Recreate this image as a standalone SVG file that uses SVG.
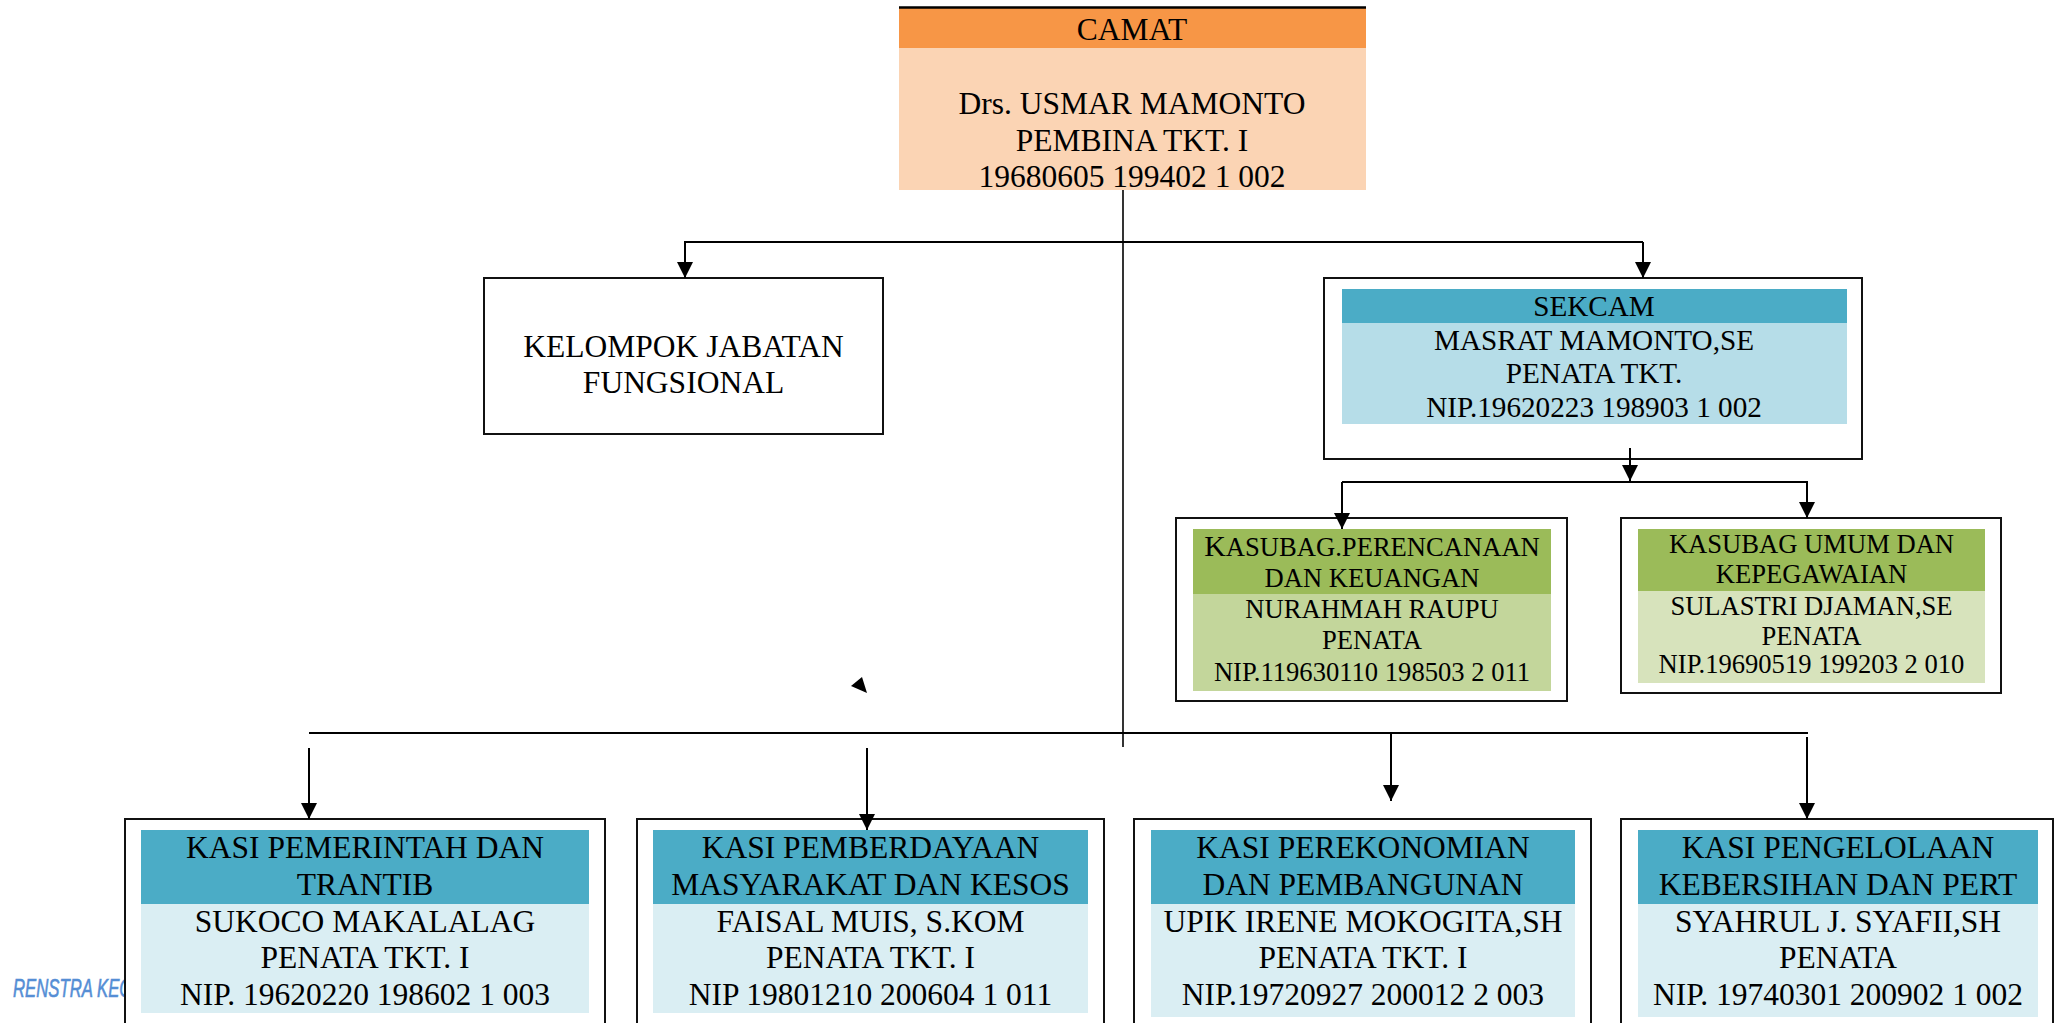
<svg xmlns="http://www.w3.org/2000/svg" width="2058" height="1023" viewBox="0 0 2058 1023">
<defs>
<style>
.t{font-family:"Liberation Serif","Times New Roman",serif;fill:#000;text-anchor:middle}
.s31{font-size:31.5px}
.s29{font-size:29.2px}
.s26{font-size:26.6px}
.box{fill:#fff;stroke:#111;stroke-width:2}
.ln{stroke:#000;stroke-width:2.2;fill:none}
.ar{stroke:#000;stroke-width:2;fill:none;marker-end:url(#ah)}
.hdrO{fill:#F79646}.bdyO{fill:#FBD4B4}
.hdrB{fill:#4BACC6}.bdyS{fill:#B6DDE8}.bdyK{fill:#DAEEF3}
.hdrG{fill:#9BBB59}.bdyG1{fill:#C3D69B}.bdyG2{fill:#D7E3BC}
</style>
<marker id="ah" markerUnits="userSpaceOnUse" markerWidth="16" markerHeight="16" viewBox="0 0 16 16" refX="16" refY="8" orient="auto"><path d="M0,0 L16,8 L0,16 z" fill="#000"/></marker>
</defs>
<rect width="2058" height="1023" fill="#fff"/>

<text transform="translate(13,997) scale(0.67,1)" font-family="'Liberation Sans',Arial,sans-serif" font-size="25" font-style="italic" fill="#558ED5" stroke="#558ED5" stroke-width="0.6">RENSTRA KEC</text>

<g id="camat">
<rect class="hdrO" x="899" y="8" width="467" height="40"/>
<rect class="bdyO" x="899" y="48" width="467" height="142"/>
<line x1="899" y1="7.5" x2="1366" y2="7.5" stroke="#000" stroke-width="2.5"/>
<text class="t s31" x="1132" y="40">CAMAT</text>
<text class="t s31" x="1132" y="114">Drs. USMAR MAMONTO</text>
<text class="t s31" x="1132" y="151">PEMBINA TKT. I</text>
<text class="t s31" x="1132" y="187">19680605 199402 1 002</text>
</g>

<g id="kelompok">
<rect class="box" x="484" y="278" width="399" height="156"/>
<text class="t s31" x="683.5" y="357">KELOMPOK JABATAN</text>
<text class="t s31" x="683.5" y="393">FUNGSIONAL</text>
</g>

<g id="sekcam">
<rect class="box" x="1324" y="278" width="538" height="181"/>
<rect class="hdrB" x="1342" y="289" width="505" height="34"/>
<rect class="bdyS" x="1342" y="323" width="505" height="101"/>
<text class="t s29" x="1594" y="316">SEKCAM</text>
<text class="t s29" x="1594" y="350">MASRAT MAMONTO,SE</text>
<text class="t s29" x="1594" y="383">PENATA TKT.</text>
<text class="t s29" x="1594" y="417">NIP.19620223 198903 1 002</text>
</g>

<g id="kasubag-perencanaan">
<rect class="box" x="1176" y="518" width="391" height="183"/>
<rect class="hdrG" x="1193" y="529" width="358" height="65"/>
<rect class="bdyG1" x="1193" y="594" width="358" height="97"/>
<text class="t s26" x="1372" y="556"><tspan font-size="30">K</tspan>ASUBAG.PERENCANAAN</text>
<text class="t s26" x="1372" y="587">DAN KEUANGAN</text>
<text class="t s26" x="1372" y="618">NURAHMAH RAUPU</text>
<text class="t s26" x="1372" y="649">PENATA</text>
<text class="t s26" x="1372" y="681">NIP.119630110 198503 2 011</text>
</g>

<g id="kasubag-umum">
<rect class="box" x="1621" y="518" width="380" height="175"/>
<rect class="hdrG" x="1638" y="529" width="347" height="62"/>
<rect class="bdyG2" x="1638" y="591" width="347" height="92"/>
<text class="t s26" x="1811.5" y="553">KASUBAG UMUM DAN</text>
<text class="t s26" x="1811.5" y="583">KEPEGAWAIAN</text>
<text class="t s26" x="1811.5" y="615">SULASTRI DJAMAN,SE</text>
<text class="t s26" x="1811.5" y="645">PENATA</text>
<text class="t s26" x="1811.5" y="673">NIP.19690519 199203 2 010</text>
</g>

<g id="kasi-pemerintah">
<rect class="box" x="125" y="819" width="480" height="220"/>
<rect class="hdrB" x="141" y="830" width="448" height="74"/>
<rect class="bdyK" x="141" y="904" width="448" height="109"/>
<text class="t s31" x="365" y="858">KASI PEMERINTAH DAN</text>
<text class="t s31" x="365" y="895">TRANTIB</text>
<text class="t s31" x="365" y="932">SUKOCO MAKALALAG</text>
<text class="t s31" x="365" y="968">PENATA TKT. I</text>
<text class="t s31" x="365" y="1005">NIP. 19620220 198602 1 003</text>
</g>

<g id="kasi-pemberdayaan">
<rect class="box" x="637" y="819" width="467" height="220"/>
<rect class="hdrB" x="653" y="830" width="435" height="74"/>
<rect class="bdyK" x="653" y="904" width="435" height="109"/>
<text class="t s31" x="870.5" y="858">KASI PEMBERDAYAAN</text>
<text class="t s31" x="870.5" y="895">MASYARAKAT DAN KESOS</text>
<text class="t s31" x="870.5" y="932">FAISAL MUIS, S.KOM</text>
<text class="t s31" x="870.5" y="968">PENATA TKT. I</text>
<text class="t s31" x="870.5" y="1005">NIP 19801210 200604 1 011</text>
</g>

<g id="kasi-perekonomian">
<rect class="box" x="1134" y="819" width="457" height="220"/>
<rect class="hdrB" x="1151" y="830" width="424" height="74"/>
<rect class="bdyK" x="1151" y="904" width="424" height="113"/>
<text class="t s31" x="1363" y="858">KASI PEREKONOMIAN</text>
<text class="t s31" x="1363" y="895">DAN PEMBANGUNAN</text>
<text class="t s31" x="1363" y="932">UPIK IRENE MOKOGITA,SH</text>
<text class="t s31" x="1363" y="968">PENATA TKT. I</text>
<text class="t s31" x="1363" y="1005">NIP.19720927 200012 2 003</text>
</g>

<g id="kasi-pengelolaan">
<rect class="box" x="1621" y="819" width="432" height="220"/>
<rect class="hdrB" x="1638" y="830" width="400" height="74"/>
<rect class="bdyK" x="1638" y="904" width="400" height="113"/>
<text class="t s31" x="1838" y="858">KASI PENGELOLAAN</text>
<text class="t s31" x="1838" y="895">KEBERSIHAN DAN PERT</text>
<text class="t s31" x="1838" y="932">SYAHRUL J. SYAFII,SH</text>
<text class="t s31" x="1838" y="968">PENATA</text>
<text class="t s31" x="1838" y="1005">NIP. 19740301 200902 1 002</text>
</g>

<g id="connectors">
<line class="ln" x1="1123" y1="190" x2="1123" y2="747" style="stroke-width:1.6"/>
<line class="ln" x1="684" y1="242" x2="1643" y2="242"/>
<line class="ar" x1="685" y1="242" x2="685" y2="278"/>
<line class="ar" x1="1643" y1="242" x2="1643" y2="278"/>
<line class="ar" x1="1630" y1="448" x2="1630" y2="481"/>
<line class="ln" x1="1342" y1="482" x2="1808" y2="482"/>
<line class="ar" x1="1342" y1="482" x2="1342" y2="529"/>
<line class="ar" x1="1807" y1="482" x2="1807" y2="518"/>
<line class="ln" x1="309" y1="733" x2="1808" y2="733"/>
<line class="ar" x1="309" y1="748" x2="309" y2="819"/>
<line class="ar" x1="867" y1="748" x2="867" y2="830"/>
<line class="ar" x1="1391" y1="733" x2="1391" y2="801"/>
<line class="ar" x1="1807" y1="737" x2="1807" y2="819"/>
<polygon points="851,686 862,677 867,693" fill="#000"/>
</g>
</svg>
